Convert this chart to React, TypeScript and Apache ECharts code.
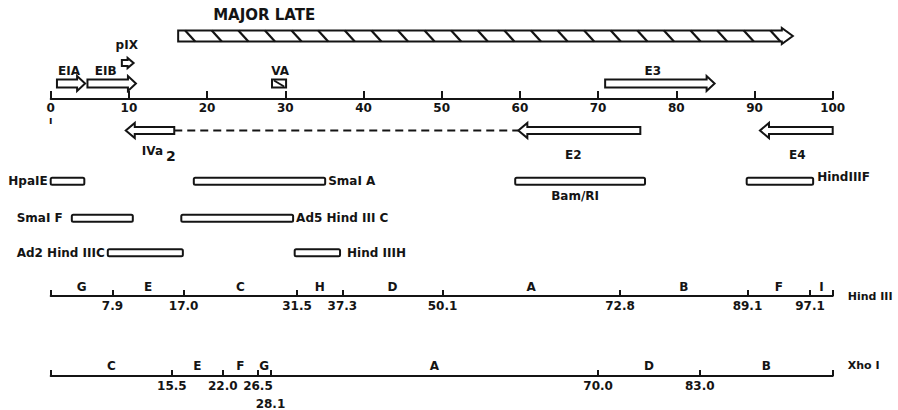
import React, { useEffect, useRef } from 'react';
import * as echarts from 'echarts';

const FONT = '"DejaVu Sans", "Liberation Sans", sans-serif';
const INK = '#141414';

// ---- data (map units, 0-100) ----
const majorLate = [["MAJOR LATE", 16.3, 94.9]];
const rightwardTranscripts = [["EIA", 0.8, 4.4], ["EIB", 4.7, 10.9], ["E3", 70.9, 84.9]];
const pIXTranscript = [["pIX", 9.1, 10.6]];
const vaGenes = [["VA", 28.3, 30.1]];
const leftwardTranscripts = [["IVa2", 9.6, 15.8], ["E2", 59.8, 75.4], ["E4", 90.7, 100]];
const ivaSplice = [[15.8, 59.8]];
const fragments = [
  ["HpaIE", 0, 4.3],
  ["SmaI A", 18.3, 35.1],
  ["Bam/RI", 59.4, 76.0],
  ["HindIIIF", 89.0, 97.5],
  ["SmaI F", 2.7, 10.5],
  ["Ad5 Hind III C", 16.7, 31.0],
  ["Ad2 Hind IIIC", 7.3, 16.9],
  ["Hind IIIH", 31.2, 37.0],
];
const hindIIISites = [7.9, 17.0, 31.5, 37.3, 50.1, 72.8, 89.1, 97.1];
const hindIIIFragments = ["G", "E", "C", "H", "D", "A", "B", "F", "I"];
const xhoISites = [15.5, 22.0, 26.5, 28.1, 70.0, 83.0];
const xhoIFragments = ["C", "E", "F", "G", "A", "D", "B"];

// ---- layout (pixels) ----
const L = {
  gridLeft: 50.7,
  gridRight: 65.3,
  mainAxis: 99,
  hindAxis: 296,
  xhoAxis: 376,
  major: { cy: 36, bh: 11, hh: 16, hl: 11, labelDx: 35, labelY: 15, stripeStart: 7, stripeGap: 26.6, stripeRun: 10 },
  rightRow: { cy: 83.5, bh: 8, hh: 15, hl: 8, labelY: 70.5 },
  pix: { cy: 63, bh: 6, hh: 10, hl: 6, labelY: 44.5 },
  va: { top: 79.5, h: 8, labelY: 71 },
  leftRow: { cy: 130.5, bh: 7, hh: 15, hl: 9, labelY: 155 },
  fragRows: [181.3, 218.3, 252.8],
  fragH: 7,
  hindLetterY: 287,
  xhoLetterY: 365.5,
};
const labelDx: Record<string, number> = { EIA: -2, EIB: -6, E3: -7, pIX: -1, VA: 1, E2: -6, E4: 1 };
const fragLayout: Record<string, { row: number; side: string; gap: number; dy?: number; dx?: number }> = {
  "HpaIE": { row: 0, side: 'left', gap: 3 },
  "SmaI A": { row: 0, side: 'right', gap: 3 },
  "Bam/RI": { row: 0, side: 'below', gap: 15, dx: -5 },
  "HindIIIF": { row: 0, side: 'right', gap: 4, dy: -4 },
  "SmaI F": { row: 1, side: 'left', gap: 9 },
  "Ad5 Hind III C": { row: 1, side: 'right', gap: 3 },
  "Ad2 Hind IIIC": { row: 2, side: 'left', gap: 3 },
  "Hind IIIH": { row: 2, side: 'right', gap: 7 },
};
const xhoSecondLine = [28.1];

const outline = { stroke: INK, lineWidth: 2, fill: '#fff', lineJoin: 'miter' as const };

function txt(text: string, x: number, y: number, align = 'center', size = 12) {
  return {
    type: 'text',
    x,
    y,
    style: { text, fill: INK, fontFamily: FONT, fontWeight: 'bold', fontSize: size, align, verticalAlign: 'middle' },
  };
}

function arrowPoints(xs: number, xe: number, cy: number, bh: number, hh: number, hl: number, dir: number) {
  if (dir > 0) {
    const xb = xe - hl;
    return [[xs, cy - bh / 2], [xb, cy - bh / 2], [xb, cy - hh / 2], [xe, cy], [xb, cy + hh / 2], [xb, cy + bh / 2], [xs, cy + bh / 2]];
  }
  const xb = xs + hl;
  return [[xe, cy - bh / 2], [xb, cy - bh / 2], [xb, cy - hh / 2], [xs, cy], [xb, cy + hh / 2], [xb, cy + bh / 2], [xe, cy + bh / 2]];
}

const xOf = (api: any, v: number) => api.coord([v, 0])[0];
const toItems = (arr: any[]) => arr.map((d) => ({ name: d[0], value: [d[1], d[2]] }));

function buildOption() {
  const axisText = { color: INK, fontFamily: FONT, fontWeight: 'bold', fontSize: 12 };
  const axisLine = { show: true, onZero: false, lineStyle: { color: INK, width: 2 } };
  const tickLine = { color: INK, width: 2 };
  const gridBase = { left: L.gridLeft, right: L.gridRight, top: 0, containLabel: false, outerBoundsMode: 'none' };

  const hindBounds = [0, ...hindIIISites, 100];
  const xhoBounds = [0, ...xhoISites, 100];

  const series: any[] = [
    {
      type: 'custom',
      name: 'major late',
      xAxisIndex: 0,
      yAxisIndex: 0,
      data: toItems(majorLate),
      renderItem: (params: any, api: any) => {
        const m = L.major;
        const x0 = xOf(api, api.value(0));
        const x1 = xOf(api, api.value(1));
        const children: any[] = [{ type: 'polygon', shape: { points: arrowPoints(x0, x1, m.cy, m.bh, m.hh, m.hl, 1) }, style: outline }];
        const top = m.cy - m.bh / 2;
        const bot = m.cy + m.bh / 2;
        for (let x = x0 + m.stripeStart; x + m.stripeRun < x1 - 2; x += m.stripeGap) {
          children.push({ type: 'line', shape: { x1: x, y1: top, x2: x + m.stripeRun, y2: bot }, style: { stroke: INK, lineWidth: 2.2 } });
        }
        children.push(txt(majorLate[params.dataIndex][0] as string, x0 + m.labelDx, m.labelY, 'left', 15));
        return { type: 'group', children };
      },
    },
    {
      type: 'custom',
      name: 'rightward',
      xAxisIndex: 0,
      yAxisIndex: 0,
      data: toItems(rightwardTranscripts),
      renderItem: (params: any, api: any) => {
        const r = L.rightRow;
        const name = rightwardTranscripts[params.dataIndex][0] as string;
        const x0 = xOf(api, api.value(0));
        const x1 = xOf(api, api.value(1));
        return {
          type: 'group',
          children: [
            { type: 'polygon', shape: { points: arrowPoints(x0, x1, r.cy, r.bh, r.hh, r.hl, 1) }, style: outline },
            txt(name, (x0 + x1) / 2 + (labelDx[name] || 0), r.labelY),
          ],
        };
      },
    },
    {
      type: 'custom',
      name: 'pIX',
      xAxisIndex: 0,
      yAxisIndex: 0,
      data: toItems(pIXTranscript),
      renderItem: (params: any, api: any) => {
        const r = L.pix;
        const name = pIXTranscript[params.dataIndex][0] as string;
        const x0 = xOf(api, api.value(0));
        const x1 = xOf(api, api.value(1));
        return {
          type: 'group',
          children: [
            { type: 'polygon', shape: { points: arrowPoints(x0, x1, r.cy, r.bh, r.hh, r.hl, 1) }, style: outline },
            txt(name, (x0 + x1) / 2 + (labelDx[name] || 0), r.labelY),
          ],
        };
      },
    },
    {
      type: 'custom',
      name: 'VA',
      xAxisIndex: 0,
      yAxisIndex: 0,
      data: toItems(vaGenes),
      renderItem: (params: any, api: any) => {
        const v = L.va;
        const name = vaGenes[params.dataIndex][0] as string;
        const x0 = xOf(api, api.value(0));
        const x1 = xOf(api, api.value(1));
        return {
          type: 'group',
          children: [
            { type: 'rect', shape: { x: x0, y: v.top, width: x1 - x0, height: v.h }, style: outline },
            { type: 'line', shape: { x1: x0 + 2, y1: v.top + 1, x2: x1 - 2, y2: v.top + v.h - 1 }, style: { stroke: INK, lineWidth: 2 } },
            txt(name, (x0 + x1) / 2 + (labelDx[name] || 0), v.labelY),
          ],
        };
      },
    },
    {
      type: 'custom',
      name: 'splice',
      xAxisIndex: 0,
      yAxisIndex: 0,
      data: ivaSplice.map((d) => ({ value: d })),
      renderItem: (params: any, api: any) => {
        const x0 = xOf(api, api.value(0));
        const x1 = xOf(api, api.value(1));
        return { type: 'line', shape: { x1: x0, y1: L.leftRow.cy, x2: x1, y2: L.leftRow.cy }, style: { stroke: INK, lineWidth: 2, lineDash: [8, 5] } };
      },
    },
    {
      type: 'custom',
      name: 'leftward',
      xAxisIndex: 0,
      yAxisIndex: 0,
      data: toItems(leftwardTranscripts),
      renderItem: (params: any, api: any) => {
        const r = L.leftRow;
        const name = leftwardTranscripts[params.dataIndex][0] as string;
        const x0 = xOf(api, api.value(0));
        const x1 = xOf(api, api.value(1));
        const cx = (x0 + x1) / 2;
        const children: any[] = [{ type: 'polygon', shape: { points: arrowPoints(x0, x1, r.cy, r.bh, r.hh, r.hl, -1) }, style: outline }];
        const sub = name.match(/^(.*?)(\d)$/);
        if (sub && sub[1].length > 1) {
          children.push(txt(sub[1], cx + 13, r.labelY - 4, 'right', 12));
          children.push(txt(sub[2], cx + 16, r.labelY + 1, 'left', 14));
        } else {
          children.push(txt(name, cx + (labelDx[name] || 0), r.labelY));
        }
        return { type: 'group', children };
      },
    },
    {
      type: 'custom',
      name: 'fragments',
      xAxisIndex: 0,
      yAxisIndex: 0,
      data: toItems(fragments),
      renderItem: (params: any, api: any) => {
        const name = fragments[params.dataIndex][0] as string;
        const lay = fragLayout[name];
        const cy = L.fragRows[lay.row];
        const x0 = xOf(api, api.value(0));
        const x1 = xOf(api, api.value(1));
        const children: any[] = [
          { type: 'rect', shape: { x: x0, y: cy - L.fragH / 2, width: x1 - x0, height: L.fragH, r: 1.5 }, style: outline },
        ];
        const dy = lay.dy || 0;
        if (lay.side === 'left') children.push(txt(name, x0 - lay.gap, cy + dy, 'right'));
        else if (lay.side === 'right') children.push(txt(name, x1 + lay.gap, cy + dy, 'left'));
        else children.push(txt(name, (x0 + x1) / 2 + (lay.dx || 0), cy + lay.gap + dy));
        return { type: 'group', children };
      },
    },
    {
      type: 'custom',
      name: 'hind letters',
      xAxisIndex: 0,
      yAxisIndex: 0,
      data: hindIIIFragments.map((l, i) => ({ name: l, value: [hindBounds[i], hindBounds[i + 1]] })),
      renderItem: (params: any, api: any) => {
        const x = xOf(api, (api.value(0) + api.value(1)) / 2);
        return txt(hindIIIFragments[params.dataIndex], x, L.hindLetterY, 'center', 12);
      },
    },
    {
      type: 'custom',
      name: 'xho letters',
      xAxisIndex: 0,
      yAxisIndex: 0,
      data: xhoIFragments.map((l, i) => ({ name: l, value: [xhoBounds[i], xhoBounds[i + 1]] })),
      renderItem: (params: any, api: any) => {
        const x = xOf(api, (api.value(0) + api.value(1)) / 2);
        return txt(xhoIFragments[params.dataIndex], x, L.xhoLetterY, 'center', 12);
      },
    },
  ];

  return {
    animation: false,
    backgroundColor: '#fff',
    grid: [
      { ...gridBase, height: L.mainAxis },
      { ...gridBase, height: L.hindAxis },
      { ...gridBase, height: L.xhoAxis },
    ],
    xAxis: [
      {
        gridIndex: 0,
        type: 'value',
        min: 0,
        max: 100,
        interval: 10,
        axisLine,
        axisTick: { show: true, inside: true, length: 8, lineStyle: tickLine },
        axisLabel: { ...axisText, margin: 3 },
        splitLine: { show: false },
      },
      {
        gridIndex: 1,
        type: 'value',
        min: 0,
        max: 100,
        name: 'Hind III',
        nameLocation: 'end',
        nameGap: 15,
        nameTextStyle: { ...axisText, fontSize: 11 },
        axisLine,
        axisTick: { show: true, inside: true, length: 6, lineStyle: tickLine, customValues: [0, ...hindIIISites, 100] },
        axisLabel: { ...axisText, margin: 4, customValues: hindIIISites, formatter: (v: number) => v.toFixed(1) },
        splitLine: { show: false },
      },
      {
        gridIndex: 2,
        type: 'value',
        min: 0,
        max: 100,
        name: 'Xho I',
        nameLocation: 'end',
        nameGap: 15,
        nameTextStyle: { ...axisText, fontSize: 11, verticalAlign: 'bottom', padding: [0, 0, 5, 0] },
        axisLine,
        axisTick: { show: true, inside: true, length: 6, lineStyle: tickLine, customValues: [0, ...xhoISites, 100] },
        axisLabel: {
          ...axisText,
          margin: 1,
          lineHeight: 18,
          customValues: xhoISites,
          formatter: (v: number) => (xhoSecondLine.includes(v) ? '\n' : '') + v.toFixed(1),
        },
        splitLine: { show: false },
      },
    ],
    yAxis: [0, 1, 2].map((i) => ({ gridIndex: i, type: 'value', min: 0, max: 1, show: false })),
    graphic: [
      { type: 'text', left: 49, top: 115, style: { text: 'ı', fill: INK, fontFamily: FONT, fontWeight: 'bold', fontSize: 10 } },
    ],
    series,
  };
}

export default function App() {
  const ref = useRef<HTMLDivElement>(null);
  useEffect(() => {
    document.body.style.margin = '0';
    const chart = echarts.init(ref.current!, undefined, { renderer: 'svg' });
    chart.setOption(buildOption() as any);
    return () => chart.dispose();
  }, []);
  return <div ref={ref} style={{ width: 898, height: 410, background: '#fff' }} />;
}
